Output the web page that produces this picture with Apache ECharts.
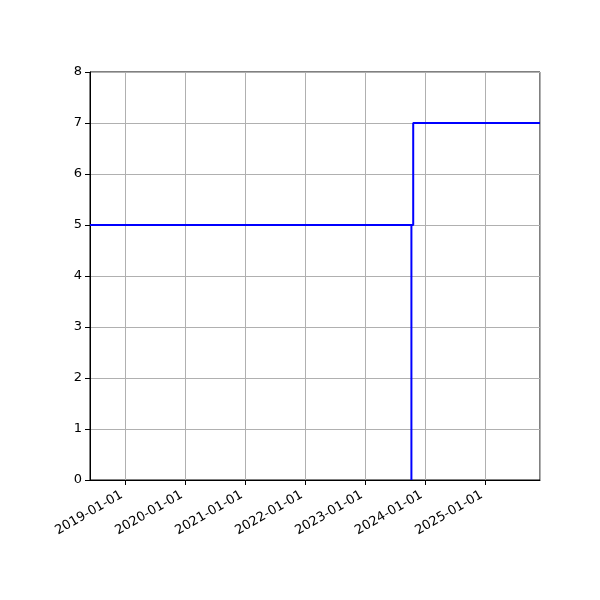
<!DOCTYPE html>
<html><head><meta charset="utf-8">
<script src="https://cdn.jsdelivr.net/npm/echarts@6/dist/echarts.min.js"></script>
<style>html,body{margin:0;padding:0;background:#fff}#c{width:600px;height:600px}</style>
</head><body><div id="c"></div>
<script>
// Main step line: level 5, then step up to 7
const dates1  = ['2018-06-01','2023-10-21','2023-10-21','2025-12-01'];
const values1 = [5, 5, 7, 7];
// Drop line: from 5 down to 0
const dates2  = ['2023-10-10','2023-10-10'];
const values2 = [5, 0];
const xMin = '2018-06-01';
const xMax = '2025-12-01';
const yTicks = [0,1,2,3,4,5,6,7,8];

const DAY = 86400000;
const chart = echarts.init(document.getElementById('c'), null, {renderer:'canvas'});
const font = 'DejaVu Sans';
const lineSeries = (ds, vs) => ({
  type:'line',
  data:ds.map((d,i)=>[d,vs[i]]),
  showSymbol:false,
  lineStyle:{color:'#0000ff',width:2},
  itemStyle:{color:'#0000ff'}
});
chart.setOption({
  animation:false,
  backgroundColor:'#fff',
  grid:{left:90,right:60,top:72,bottom:120,show:true,borderColor:'#000',borderWidth:1,containLabel:false},
  xAxis:{
    type:'time', min:xMin, max:xMax,
    minInterval:365*DAY, maxInterval:366*DAY,
    axisLine:{show:true,lineStyle:{color:'#000',width:1}},
    axisTick:{show:true,length:5,inside:false,lineStyle:{color:'#000'}},
    splitLine:{show:true,lineStyle:{color:'#b0b0b0',width:1}},
    axisLabel:{
      rotate:30, fontSize:13, color:'#000', fontFamily:font, margin:12, padding:[0,4,0,0],
      showMinLabel:false, showMaxLabel:false,
      formatter:function(v){const d=new Date(v);return d.getUTCFullYear()+'-'+String(d.getUTCMonth()+1).padStart(2,'0')+'-'+String(d.getUTCDate()).padStart(2,'0');},
      fontWeight:'normal'
    }
  },
  yAxis:{
    type:'value', min:yTicks[0], max:yTicks[yTicks.length-1], interval:1,
    axisLine:{show:true,lineStyle:{color:'#000',width:1}},
    axisTick:{show:true,length:5,lineStyle:{color:'#000'}},
    splitLine:{show:true,lineStyle:{color:'#b0b0b0',width:1}},
    axisLabel:{fontSize:13,color:'#000',fontFamily:font,margin:8,padding:[2,0,0,0]}
  },
  series:[lineSeries(dates1, values1), lineSeries(dates2, values2)]
});
</script></body></html>
